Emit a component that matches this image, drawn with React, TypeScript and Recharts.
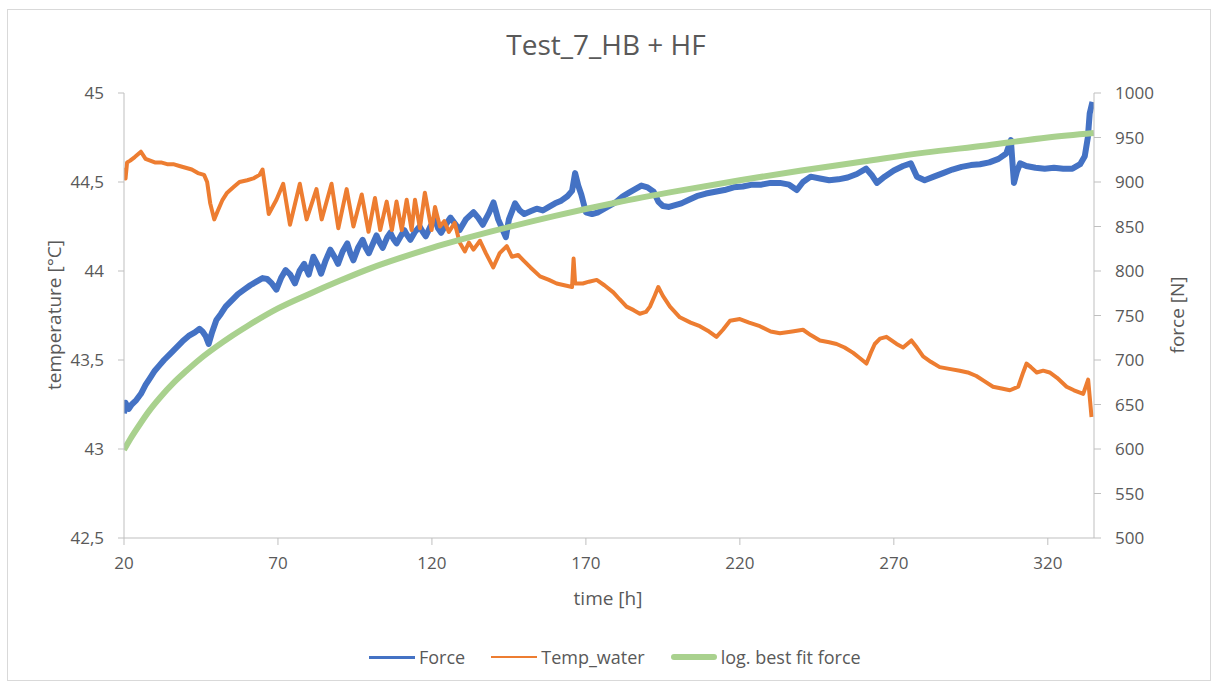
import { LineChart, Line, XAxis, YAxis } from 'recharts'

// time [h] / force [N]
const forceT = [
  20, 20.5, 21.5, 22.5, 24, 25.5, 27, 28.5, 30, 31.5, 33, 35, 37, 39, 41, 43, 44.5, 45.5, 46.5, 47.5,
  48.5, 50, 51.5, 53, 55, 57, 59, 61, 63, 65, 66.5, 68, 69.5, 71, 72.5, 74, 75.5, 77, 78.5, 80,
  81.5, 83, 84, 85.5, 87, 88.5, 89.5, 91, 92.5, 93.5, 94.5, 96, 97.5, 98.5, 99.5, 101, 102, 103, 104, 105.5,
  106.5, 107.5, 108.5, 110, 111, 112, 113, 114.5, 116, 117, 118, 119.5, 121, 122, 123, 124.5, 126, 127.5, 129, 131,
  133.5, 135, 136.5, 138.5, 140, 141.5, 143, 144, 145, 147, 148.5, 150, 152, 154, 156, 158, 160, 162, 164, 165.5,
  166.5, 167.5, 168.5, 170, 172, 174, 176, 178, 180, 182, 184, 186, 188, 190, 192, 193.5, 195, 197, 199, 201,
  203.5, 206, 209, 212, 215, 218, 221, 224, 227, 230, 233, 236, 238.5, 240.5, 243, 246, 249, 252, 255, 258,
  261, 263, 264.5, 267, 270, 273, 275.5, 277.5, 280, 283, 286, 289, 292, 295, 298, 301, 304, 306.5, 308, 309,
  310, 311, 313, 316, 319, 322, 325, 328, 330.5, 332, 333, 333.6, 334.5,
]
const forceN = [
  640, 652, 645, 650, 655, 662, 672, 680, 688, 694, 700, 707, 714, 721, 727, 731, 735, 732, 727, 718,
  730, 745, 752, 760, 767, 774, 779, 784, 788, 792, 791, 786, 779, 792, 801, 796, 786, 800, 808, 796,
  816, 806, 797, 812, 824, 815, 808, 822, 831, 820, 812, 826, 835, 826, 820, 832, 840, 832, 826, 838,
  843, 836, 831, 840, 846, 840, 835, 844, 850, 844, 839, 850, 858, 848, 843, 852, 860, 853, 846, 858,
  866, 860, 852, 865, 877, 858, 846, 838, 858, 876, 868, 864, 867, 870, 868, 872, 876, 879, 884, 890,
  910, 896, 886, 866, 864, 866, 870, 874, 878, 884, 888, 892, 896, 894, 889, 878, 873, 872, 874, 876,
  880, 884, 887, 889, 891, 894, 895, 897, 897, 899, 899, 897, 891, 900, 906, 904, 902, 903, 905, 909,
  915, 907, 899, 906, 913, 918, 921, 906, 902, 906, 910, 914, 917, 919, 920, 922, 926, 932, 947, 899,
  912, 921, 918, 916, 915, 916, 915, 915, 920, 929, 950, 977, 990,
]

// time [h] / water temperature [°C]
const tempT = [
  20, 20.5, 21, 22, 23.5, 25.5, 27, 28.5, 30, 32, 34, 36, 38, 40, 42, 44, 46, 47, 48, 49.3,
  50.5, 52, 53.5, 55.5, 57.5, 60, 62, 64, 65, 66, 67, 69.5, 71.7, 73.9, 77.1, 79.3, 82.5, 84.2, 87.4, 89.6,
  92.3, 94.5, 97.2, 99.4, 101.5, 103.2, 105.3, 107, 108.5, 110.2, 111.8, 113.4, 114.5, 116.1, 117.7, 119.9, 121, 122.6, 124, 125.5,
  127.4, 129, 130.7, 132, 133.5, 135.6, 137.5, 139.9, 142, 144.3, 146, 148, 149.7, 152, 155.1, 158, 160.5, 163, 165.5, 166,
  166.5, 169, 171, 173.5, 176, 178.9, 181, 183.2, 185.5, 187.5, 189.5, 190.8, 192.3, 193.5, 195, 197.3, 200.5, 204, 207, 210,
  212.4, 214.5, 216.8, 220, 223, 226.5, 230, 233, 237, 240.5, 243, 246, 249, 251.4, 254, 256.8, 259, 261.1, 262.5, 263.8,
  265.5, 267.6, 270.9, 273, 275.7, 277.5, 279.5, 282, 284.9, 288, 291.4, 294, 296.8, 299.5, 302.2, 305, 307.7, 310.4, 312, 313.1,
  314.5, 316.4, 318.5, 320.6, 323, 326.1, 328.5, 331.5, 333.1, 334.2,
]
const tempC = [
  44.58, 44.52, 44.61, 44.62, 44.64, 44.67, 44.63, 44.62, 44.61, 44.61, 44.6, 44.6, 44.59, 44.58, 44.57, 44.55, 44.54, 44.5, 44.38, 44.29,
  44.34, 44.4, 44.44, 44.47, 44.5, 44.51, 44.52, 44.54, 44.57, 44.45, 44.32, 44.4, 44.49, 44.26, 44.49, 44.29, 44.46, 44.29, 44.49, 44.24,
  44.46, 44.25, 44.43, 44.22, 44.41, 44.23, 44.39, 44.23, 44.39, 44.23, 44.4, 44.23, 44.4, 44.24, 44.44, 44.23, 44.36, 44.25, 44.28, 44.22,
  44.27, 44.16, 44.11, 44.16, 44.12, 44.17, 44.1, 44.02, 44.1, 44.14, 44.08, 44.09, 44.06, 44.02, 43.97, 43.95, 43.93, 43.92, 43.91, 44.07,
  43.93, 43.93, 43.94, 43.95, 43.92, 43.88, 43.84, 43.8, 43.78, 43.76, 43.77, 43.8, 43.86, 43.91, 43.86, 43.8, 43.74, 43.71, 43.69, 43.66,
  43.63, 43.67, 43.72, 43.73, 43.71, 43.69, 43.66, 43.65, 43.66, 43.67, 43.64, 43.61, 43.6, 43.59, 43.57, 43.54, 43.51, 43.48, 43.54, 43.59,
  43.62, 43.63, 43.59, 43.57, 43.61, 43.57, 43.52, 43.49, 43.46, 43.45, 43.44, 43.43, 43.41, 43.38, 43.35, 43.34, 43.33, 43.35, 43.43, 43.48,
  43.46, 43.43, 43.44, 43.43, 43.4, 43.35, 43.33, 43.31, 43.39, 43.18,
]

// log. best fit force, read at a few points along the green curve
const fitT = [20, 22, 25, 28, 32, 36, 40, 45, 50, 55, 60, 70, 80, 90, 100, 110, 120, 140, 160, 180, 200, 220, 240, 260, 280, 300, 320, 335]
const fitN = [599, 611, 627, 642, 659, 674, 687, 702, 715, 727, 738, 758, 774, 789, 803, 815, 826, 845, 862, 877, 890, 902, 913, 923, 933, 941, 950, 955]

const timeTicks = [20, 70, 120, 170, 220, 270, 320]
const tempTicks = [42.5, 43, 43.5, 44, 44.5, 45]
const forceTicks = [500, 550, 600, 650, 700, 750, 800, 850, 900, 950, 1000]

const zip = (ts: number[], vs: number[]) => ts.map((t, i) => ({ t, v: vs[i] }))

const FONT = '"Open Sans", sans-serif'
const TXT = '#595959'
const AXIS = '#bfbfbf'
const tick = { fill: TXT, fontSize: 17, fontFamily: FONT }

function LegendItem({ color, width, label }: { color: string; width: number; label: string }) {
  return (
    <div style={{ display: 'flex', alignItems: 'center', marginRight: 26 }}>
      <div style={{ width: 46, height: width, background: color, borderRadius: width > 3 ? 3 : 0, marginRight: 4 }} />
      <span>{label}</span>
    </div>
  )
}

export default function App() {
  return (
    <div style={{ position: 'absolute', left: 0, top: 0, width: 1212, height: 684, background: '#fff', fontFamily: FONT, color: TXT }}>
      <div style={{ position: 'absolute', left: 7, top: 9, width: 1204, height: 672, border: '1px solid #d9d9d9', boxSizing: 'border-box' }} />
      <div style={{ position: 'absolute', left: 0, width: 1212, top: 25, textAlign: 'center', fontSize: 28 }}>Test_7_HB + HF</div>
      <div style={{ position: 'absolute', left: 54, top: 315, transform: 'translate(-50%, -50%) rotate(-90deg)', whiteSpace: 'nowrap', fontSize: 19 }}>
        temperature [°C]
      </div>
      <div style={{ position: 'absolute', left: 1177, top: 315, transform: 'translate(-50%, -50%) rotate(-90deg)', whiteSpace: 'nowrap', fontSize: 19 }}>
        force [N]
      </div>
      <div style={{ position: 'absolute', left: 608, top: 598, transform: 'translate(-50%, -50%)', whiteSpace: 'nowrap', fontSize: 19 }}>
        time [h]
      </div>
      <div style={{ position: 'absolute', left: 369, top: 645, display: 'flex', fontSize: 18, whiteSpace: 'nowrap' }}>
        <LegendItem color="#4472C4" width={3} label="Force" />
        <LegendItem color="#ED7D31" width={2} label="Temp_water" />
        <LegendItem color="#A9D18E" width={6} label="log. best fit force" />
      </div>
      <LineChart width={1212} height={684} margin={{ top: 93, right: 38, bottom: 106, left: 44 }} style={{ position: 'absolute', left: 0, top: 0 }}>
        <XAxis
          type="number"
          dataKey="t"
          domain={[20, 335]}
          ticks={timeTicks}
          allowDataOverflow
          height={40}
          stroke={AXIS}
          tick={tick}
          tickSize={7}
          tickMargin={12}
        />
        <YAxis
          yAxisId="left"
          orientation="left"
          type="number"
          domain={[42.5, 45]}
          ticks={tempTicks}
          width={80}
          stroke={AXIS}
          tick={tick}
          tickSize={6}
          tickMargin={14}
          tickFormatter={(v: number) => String(v).replace('.', ',')}
        />
        <YAxis
          yAxisId="right"
          orientation="right"
          type="number"
          domain={[500, 1000]}
          ticks={forceTicks}
          width={80}
          stroke={AXIS}
          tick={tick}
          tickSize={7}
          tickMargin={14}
        />
        <Line data={zip(forceT, forceN)} yAxisId="right" dataKey="v" name="Force" type="linear" stroke="#4472C4" strokeWidth={6} strokeLinejoin="round" dot={false} isAnimationActive={false} />
        <Line data={zip(tempT, tempC)} yAxisId="left" dataKey="v" name="Temp_water" type="linear" stroke="#ED7D31" strokeWidth={4} strokeLinejoin="round" dot={false} isAnimationActive={false} />
        <Line data={zip(fitT, fitN)} yAxisId="right" dataKey="v" name="log. best fit force" type="monotone" stroke="#A9D18E" strokeWidth={6} dot={false} isAnimationActive={false} />
      </LineChart>
    </div>
  )
}
